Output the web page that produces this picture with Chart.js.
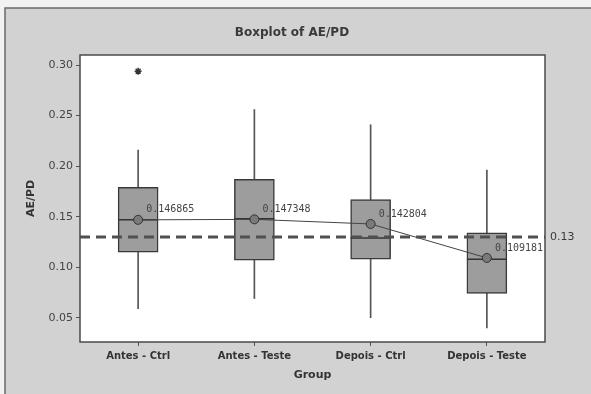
<!DOCTYPE html>
<html>
<head>
<meta charset="utf-8">
<script src="https://cdn.jsdelivr.net/npm/chart.js@4.4.1/dist/chart.umd.min.js"></script>
<style>
    body { margin: 0; background: #d3d3d3; }
    canvas { display: block; }
</style>
</head>
<body>
<canvas id="boxChart" width="591" height="394"></canvas>
<script>
// dados
const grupos = ["Antes - Ctrl", "Antes - Teste", "Depois - Ctrl", "Depois - Teste"];
const bigodeInf = [0.059, 0.069, 0.050, 0.040];
const q1 = [0.115, 0.107, 0.108, 0.074];
const mediana = [0.147, 0.148, 0.129, 0.108];
const q3 = [0.179, 0.187, 0.167, 0.134];
const bigodeSup = [0.216, 0.256, 0.241, 0.196];
const outliers = [0.294, null, null, null];
const medias = [0.146865, 0.147348, 0.142804, 0.109181];
const rotulosMedias = ["0.146865", "0.147348", "0.142804", "0.109181"];
const valorRef = 0.13;
const yTicks = [0.05, 0.10, 0.15, 0.20, 0.25, 0.30];

const fundoPlugin = {
    id: "fundo",
    beforeDraw(chart) {
        const c = chart.ctx;
        const a = chart.chartArea;
        c.save();
        c.fillStyle = "#f2f2f2";
        c.fillRect(0, 0, chart.width, chart.height);
        c.fillStyle = "#d2d2d2";
        c.fillRect(5, 8, chart.width - 5, chart.height - 8);

        // borda do scan, so em cima e a esquerda
        c.strokeStyle = "#6a6a6a";
        c.lineWidth = 1.5;
        c.beginPath();
        c.moveTo(5, chart.height);
        c.lineTo(5, 8);
        c.lineTo(chart.width, 8);
        c.stroke();

        c.fillStyle = "#ffffff";
        c.fillRect(a.left, a.top, a.right - a.left, a.bottom - a.top);

        c.fillStyle = "#3a3a3a";
        c.font = "bold 12px 'DejaVu Sans'";
        c.textAlign = "center";
        c.textBaseline = "middle";
        c.fillText("Boxplot of AE/PD", 292, 33);
        c.restore();
    },
    afterDatasetsDraw(chart) {
        const c = chart.ctx;
        const a = chart.chartArea;
        const y = chart.scales.y.getPixelForValue(valorRef);

        c.save();
        // linha de referencia tracejada
        c.strokeStyle = "#505050";
        c.lineWidth = 3;
        c.setLineDash([10, 6]);
        c.beginPath();
        c.moveTo(a.left, y);
        c.lineTo(a.right, y);
        c.stroke();
        c.setLineDash([]);

        c.fillStyle = "#3a3a3a";
        c.font = "11px 'DejaVu Sans'";
        c.textAlign = "left";
        c.textBaseline = "middle";
        c.fillText(String(valorRef), a.right + 5, y);

        // rotulos das medias
        const meta = chart.getDatasetMeta(0);
        c.font = "10px 'DejaVu Sans Mono'";
        c.fillStyle = "#444444";
        for (let i = 0; i < meta.data.length; i++) {
            const p = meta.data[i];
            c.fillText(rotulosMedias[i], p.x + 8, p.y - 10);
        }

        c.strokeStyle = "#4a4a4a";
        c.lineWidth = 1.5;
        c.strokeRect(a.left, a.top, a.right - a.left, a.bottom - a.top);
        c.restore();
    }
};

const ctx = document.getElementById("boxChart");

new Chart(ctx, {
    type: "bar",
    data: {
        labels: grupos,
        datasets: [
            {
                type: "line",
                label: "Media",
                data: medias,
                borderColor: "#444444",
                borderWidth: 1,
                pointRadius: 4.5,
                pointBackgroundColor: "#7a7a7a",
                pointBorderColor: "#333333",
                pointBorderWidth: 1,
                tension: 0,
                order: 1
            },
            {
                type: "line",
                label: "Outlier",
                data: outliers,
                showLine: false,
                pointStyle: "star",
                pointRadius: 3.5,
                borderColor: "#333333",
                borderWidth: 1.5,
                order: 2
            },
            {
                type: "line",
                label: "Mediana",
                data: mediana,
                showLine: false,
                pointStyle: "line",
                pointRadius: 20,
                borderColor: "#333333",
                borderWidth: 1.5,
                order: 3
            },
            {
                label: "Caixa",
                data: grupos.map((g, i) => [q1[i], q3[i]]),
                backgroundColor: "#9d9d9d",
                borderColor: "#3a3a3a",
                borderWidth: 1.5,
                borderSkipped: false,
                barThickness: 40,
                grouped: false,
                order: 4
            },
            {
                label: "Bigode",
                data: grupos.map((g, i) => [bigodeInf[i], bigodeSup[i]]),
                backgroundColor: "#555555",
                borderWidth: 0,
                barThickness: 1,
                grouped: false,
                order: 5
            }
        ]
    },
    options: {
        responsive: false,
        animation: false,
        layout: {
            padding: { top: 55, right: 46, bottom: 0, left: 0 }
        },
        plugins: {
            legend: { display: false },
            tooltip: { enabled: false }
        },
        scales: {
            x: {
                afterFit: (scale) => { scale.height = 52; },
                grid: { drawOnChartArea: false, offset: false, tickLength: 4, color: "#555555", tickColor: "#555555" },
                border: { display: false },
                ticks: {
                    color: "#333333",
                    padding: 4,
                    font: { family: "DejaVu Sans", size: 10, weight: "bold" }
                },
                title: {
                    display: true,
                    text: "Group",
                    color: "#333333",
                    padding: { top: 0, bottom: 12 },
                    font: { family: "DejaVu Sans", size: 11, weight: "bold" }
                }
            },
            y: {
                min: 0.026,
                max: 0.31,
                afterFit: (scale) => { scale.width = 80; },
                afterBuildTicks: (scale) => {
                    scale.ticks = yTicks.map(v => ({ value: v }));
                },
                grid: { drawOnChartArea: false, tickLength: 4, color: "#555555", tickColor: "#555555" },
                border: { display: false },
                ticks: {
                    color: "#444444",
                    padding: 3,
                    font: { family: "DejaVu Sans", size: 11 },
                    callback: (v) => Number(v).toFixed(2)
                },
                title: {
                    display: true,
                    text: "AE/PD",
                    color: "#333333",
                    padding: { top: 25, bottom: 0 },
                    font: { family: "DejaVu Sans", size: 11, weight: "bold" }
                }
            }
        }
    },
    plugins: [fundoPlugin]
});
</script>
</body>
</html>
